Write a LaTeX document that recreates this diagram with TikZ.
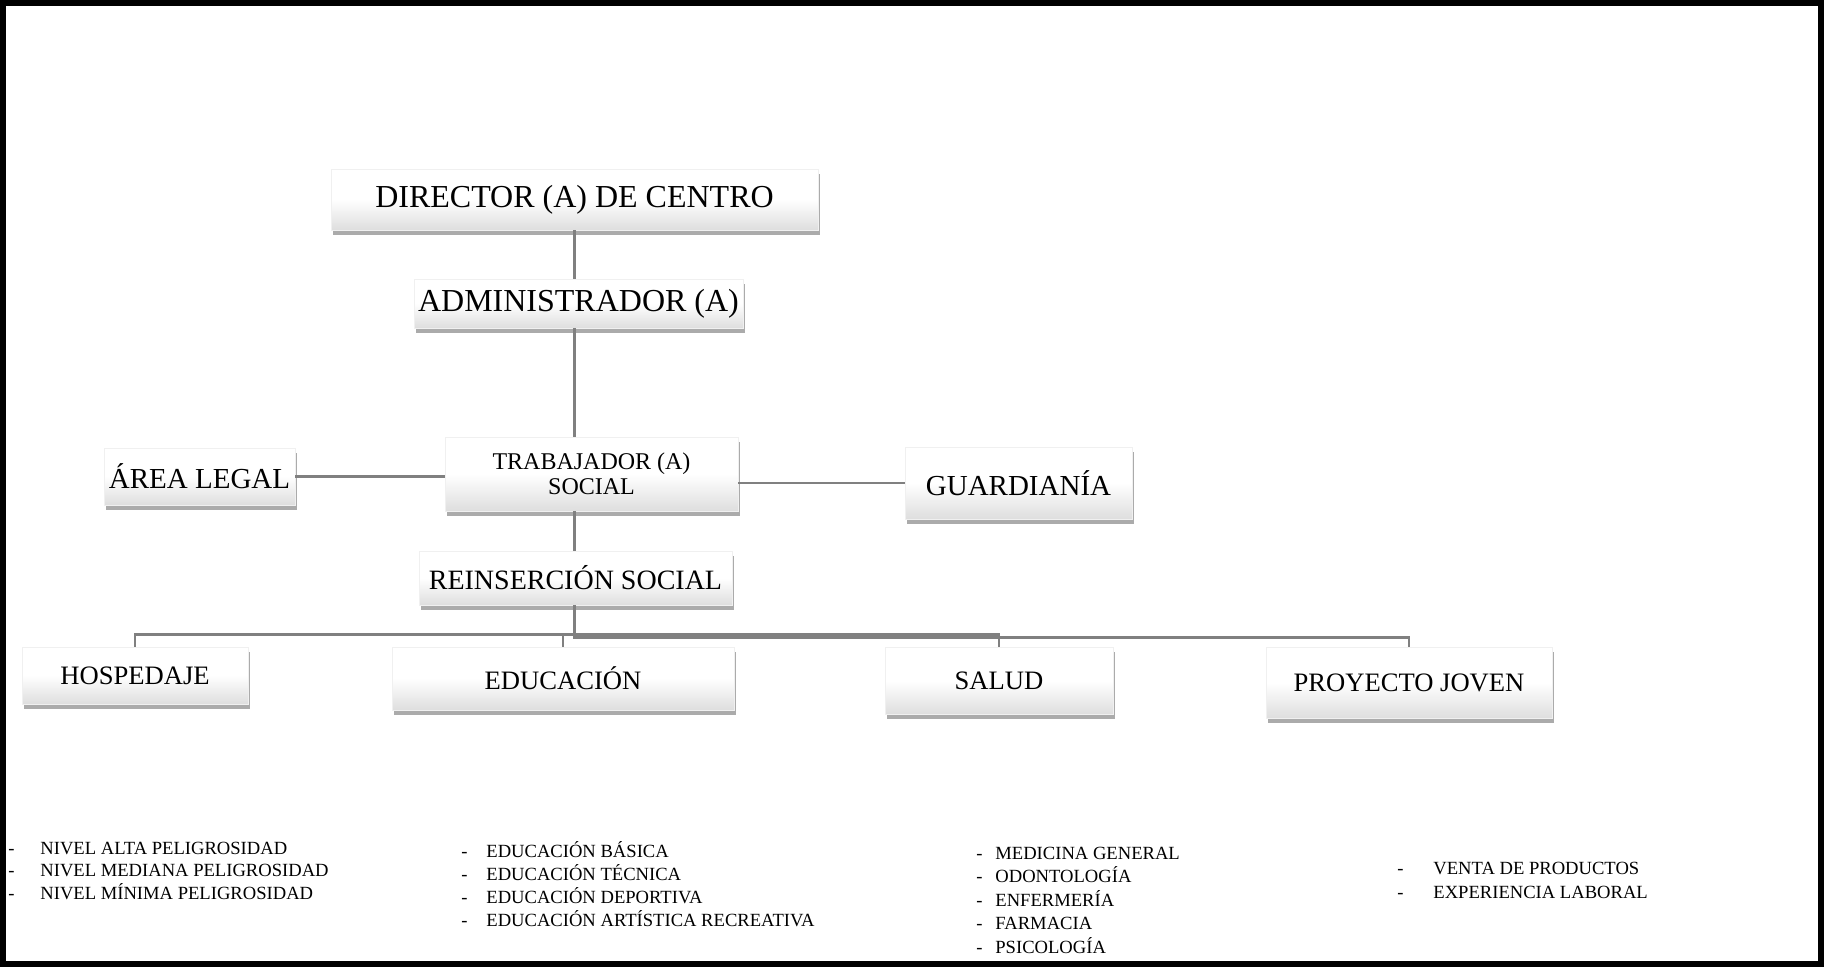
\documentclass[tikz,border=0pt]{standalone}
\usepackage{fontspec}
\setmainfont{Liberation Serif}
\usetikzlibrary{shadows}
\begin{document}
\begin{tikzpicture}[x=0.5pt,y=-0.5pt,
  box/.style={draw=black!6, line width=0.3pt, top color=white, bottom color=black!13, middle color=white, inner sep=0pt, align=center,
    drop shadow={shadow xshift=1.2pt, shadow yshift=-2.4pt, opacity=0.6, fill=black!55}},
  conn/.style={draw=black!50, line width=1.3pt},
  item/.style={anchor=base west, inner sep=0pt, font=\fontsize{9.3}{11}\selectfont}]
\useasboundingbox (0,0) rectangle (1824,967);
\draw[line width=3pt] (3,3) rectangle (1821,964);

\node[box, minimum width=243.5pt, minimum height=30.5pt, font=\fontsize{16}{19}\selectfont] (dir) at (574.5,199.5) {DIRECTOR (A) DE CENTRO};
\node[box, minimum width=164.5pt, minimum height=24.5pt, font=\fontsize{16}{19}\selectfont] (adm) at (578.5,303.5) {ADMINISTRADOR (A)};
\node[box, minimum width=146.5pt, minimum height=37pt, font=\fontsize{12}{12.5}\selectfont] (trab) at (591.5,474) {TRABAJADOR (A)\\SOCIAL};
\node[box, minimum width=95.5pt, minimum height=28.5pt, font=\fontsize{14.5}{17}\selectfont] (legal) at (199.5,476.5) {ÁREA LEGAL};
\node[box, minimum width=113.5pt, minimum height=36pt, font=\fontsize{14.5}{17}\selectfont] (guard) at (1018.5,483) {GUARDIANÍA};
\node[box, minimum width=156.5pt, minimum height=27pt, font=\fontsize{14}{17}\selectfont] (reins) at (575.5,578) {REINSERCIÓN SOCIAL};
\node[box, minimum width=113pt, minimum height=28.5pt, font=\fontsize{13.3}{16}\selectfont] (hosp) at (135,675.5) {HOSPEDAJE};
\node[box, minimum width=171pt, minimum height=31.5pt, font=\fontsize{13.3}{16}\selectfont] (edu) at (563,678.5) {EDUCACIÓN};
\node[box, minimum width=114pt, minimum height=33.5pt, font=\fontsize{13.3}{16}\selectfont] (salud) at (999,680.5) {SALUD};
\node[box, minimum width=143pt, minimum height=35.5pt, font=\fontsize{13.3}{16}\selectfont] (proy) at (1409,682.5) {PROYECTO JOVEN};

\draw[conn] (dir.south) -- (dir.south |- adm.north);
\draw[conn] (dir.south |- adm.south) -- (dir.south |- trab.north);
\draw[conn] (dir.south |- trab.south) -- (dir.south |- reins.north);
\draw[conn] (legal.east) -- (legal.east -| trab.west);
\draw[conn] (guard.west -| trab.east) -- (guard.west);
\draw[conn] (hosp.north) -- ++(0,-12) -| (salud.north);
\draw[conn] (edu.north) -- ++(0,-12);
\draw[conn] (dir.south |- reins.south) -- ++(0,32) -| (proy.north);

\foreach \t [count=\i] in {NIVEL ALTA PELIGROSIDAD, NIVEL MEDIANA PELIGROSIDAD, NIVEL MÍNIMA PELIGROSIDAD}
  \node[item] (a\i) at (8,{854+22.5*(\i-1)}) {\makebox[16pt][l]{-}\t};
\foreach \t [count=\i] in {EDUCACIÓN BÁSICA, EDUCACIÓN TÉCNICA, EDUCACIÓN DEPORTIVA, EDUCACIÓN ARTÍSTICA RECREATIVA}
  \node[item] (b\i) at (461,{857+23.3*(\i-1)}) {\makebox[12.5pt][l]{-}\t};
\foreach \t [count=\i] in {MEDICINA GENERAL, ODONTOLOGÍA, ENFERMERÍA, FARMACIA, PSICOLOGÍA}
  \node[item] (c\i) at (976,{859+23.5*(\i-1)}) {\makebox[9.5pt][l]{-}\t};
\foreach \t [count=\i] in {VENTA DE PRODUCTOS, EXPERIENCIA LABORAL}
  \node[item] (d\i) at (1397,{874+24*(\i-1)}) {\makebox[18pt][l]{-}\t};
\end{tikzpicture}
\end{document}
